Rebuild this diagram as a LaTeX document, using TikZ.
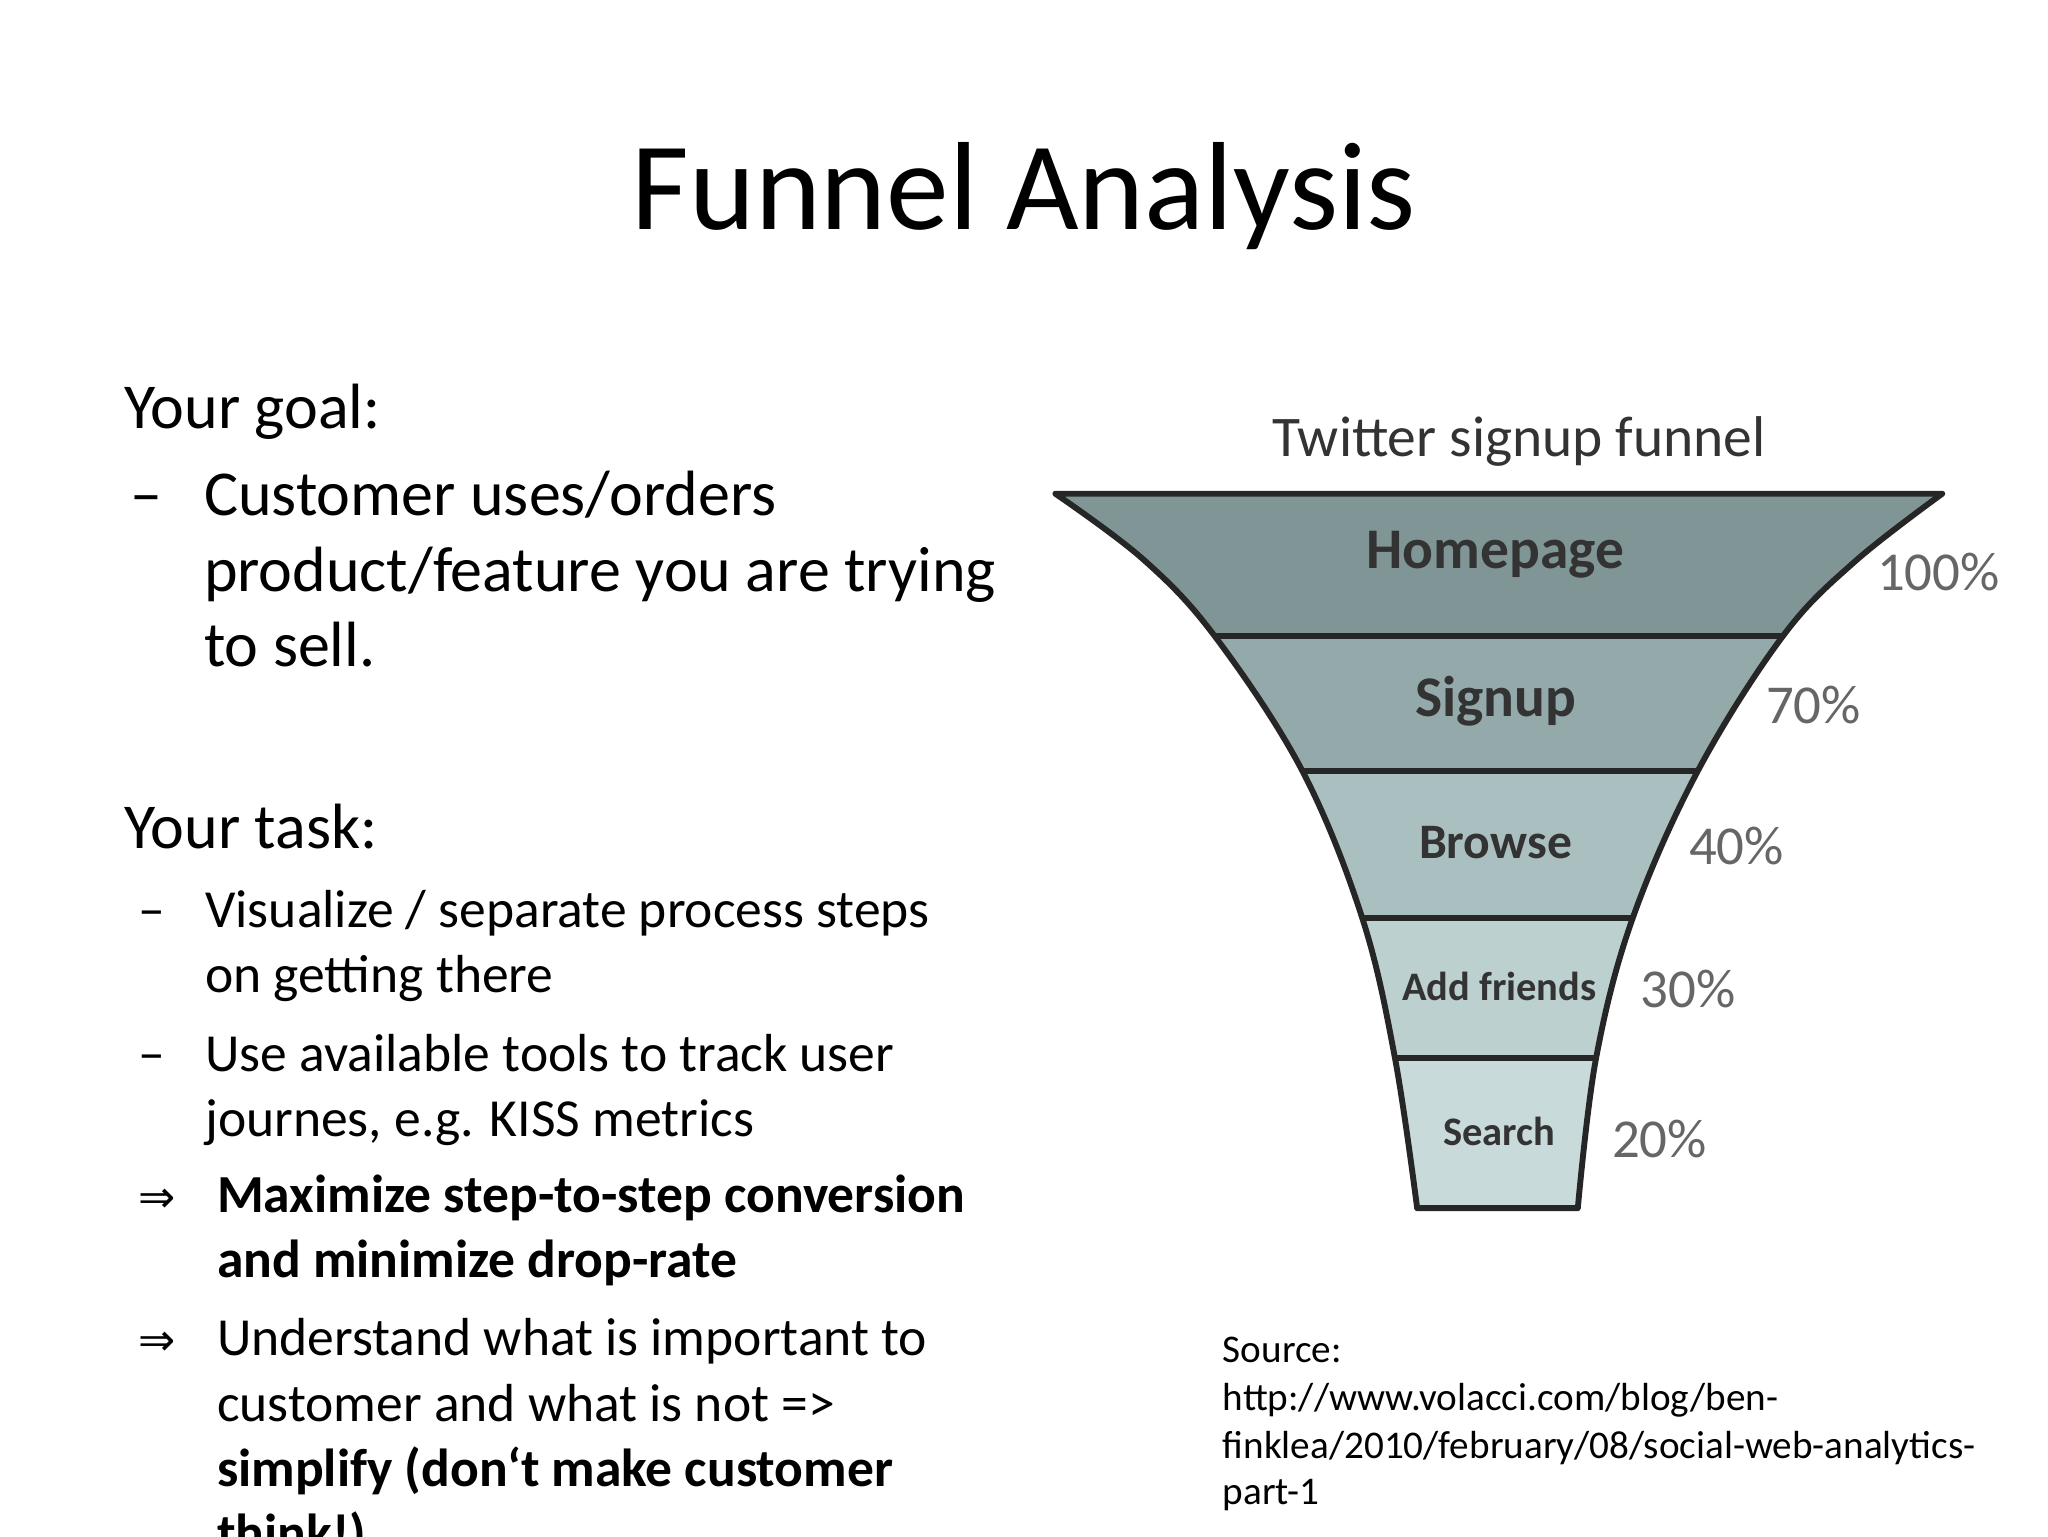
\documentclass[tikz,border=0pt]{standalone}
\usepackage{fontspec}
\setmainfont{Carlito}
\newfontfamily\dejavu{DejaVu Sans}
\begin{document}
\begin{tikzpicture}[x=1pt,y=-1pt,
  t/.style={anchor=base west,inner sep=0pt},
  fl/.style={inner sep=0pt,text=black!80,font=\bfseries},
  pc/.style={inner sep=0pt,anchor=west,text=black!60},
  edge/.style={line width=4.5pt,black!85,line join=round,line cap=round}]
\useasboundingbox (0,0) rectangle (1568,1176);
\fill[white] (0,0) rectangle (1568,1176);
\node[inner sep=0pt] (title) at (784,150) {\fontsize{96}{110}\selectfont Funnel Analysis};
% left text
\def\bs{\fontsize{49}{60}\selectfont}
\def\ss{\fontsize{41}{50}\selectfont}
\node[t] (g) at (95,328) {\bs Your goal:};
\node[t] (d1) at (100,395) {\bs –};
\node[t] (g1) at (156,395) {\bs Customer uses/orders};
\node[t] (g2) at (156,453) {\bs product/feature you are trying};
\node[t] (g3) at (156,510) {\bs to sell.};
\node[t] (k) at (95,650) {\bs Your task:};
\node[t] (d2) at (106,710) {\ss –};
\node[t] (k1) at (157,710) {\ss Visualize / separate process steps};
\node[t] (k2) at (157,760) {\ss on getting there};
\node[t] (d3) at (106,820) {\ss –};
\node[t] (k3) at (157,820) {\ss Use available tools to track user};
\node[t] (k4) at (157,870) {\ss journes, e.g. KISS metrics};
\node[t] (a1) at (106,928) {\fontsize{34}{40}\dejavu ⇒};
\node[t] (k5) at (166,928) {\ss\bfseries Maximize step-to-step conversion};
\node[t] (k6) at (166,978) {\ss\bfseries and minimize drop-rate};
\node[t] (a2) at (106,1038) {\fontsize{34}{40}\dejavu ⇒};
\node[t] (k7) at (166,1038) {\ss Understand what is important to};
\node[t] (k8) at (166,1088) {\ss customer and what is not =>};
\node[t] (k9) at (166,1138) {\ss\bfseries simplify (don‘t make customer};
\node[t] (k10) at (166,1188) {\ss\bfseries think!)};
% source
\def\sr{\fontsize{30}{36}\selectfont}
\node[t] (s1) at (936,1043) {\sr Source:};
\node[t] (s2) at (936,1080) {\sr http://www.volacci.com/blog/ben-};
\node[t] (s3) at (936,1117) {\sr finklea/2010/february/08/social-web-analytics-};
\node[t] (s4) at (936,1152) {\sr part-1};
% funnel
\def\funnel{(808,378) -- (1487,378) -- plot[smooth,tension=0.6] coordinates {(1487,378)(1420,430)(1365,487)(1300,590)(1250,703)(1222,810)(1208,925)} -- (1085,925) -- plot[smooth,tension=0.6] coordinates {(1085,925)(1068,810)(1043,703)(997,590)(930,487)(875,428)(808,378)} -- cycle}
\begin{scope}
\clip \funnel;
\fill[fill={rgb,255:red,128;green,150;blue,150}] (800,370) rectangle (1500,487);
\fill[fill={rgb,255:red,148;green,170;blue,170}] (800,487) rectangle (1500,590);
\fill[fill={rgb,255:red,170;green,192;blue,192}] (800,590) rectangle (1500,703);
\fill[fill={rgb,255:red,188;green,208;blue,208}] (800,703) rectangle (1500,810);
\fill[fill={rgb,255:red,200;green,218;blue,218}] (800,810) rectangle (1500,930);
\draw[edge] (800,487) -- (1500,487);
\draw[edge] (800,590) -- (1500,590);
\draw[edge] (800,703) -- (1500,703);
\draw[edge] (800,810) -- (1500,810);
\end{scope}
\draw[edge] \funnel;
\node[fl,font=\mdseries] (ft) at (1163,338) {\fontsize{44}{50}\selectfont Twitter signup funnel};
\node[fl] (h) at (1145,425) {\fontsize{44}{50}\selectfont Homepage};
\node[fl] (s) at (1145,537) {\fontsize{44}{50}\selectfont Signup};
\node[fl] (b) at (1145,645) {\fontsize{38}{50}\selectfont Browse};
\node[fl] (af) at (1148,755) {\fontsize{31}{40}\selectfont Add friends};
\node[fl] (se) at (1148,866) {\fontsize{31}{40}\selectfont Search};
\node[pc] (p1) at (1437,438) {\fontsize{42}{50}\selectfont 100\%};
\node[pc] (p2) at (1352,540) {\fontsize{42}{50}\selectfont 70\%};
\node[pc] (p3) at (1293,648) {\fontsize{42}{50}\selectfont 40\%};
\node[pc] (p4) at (1256,757) {\fontsize{42}{50}\selectfont 30\%};
\node[pc] (p5) at (1234,872) {\fontsize{42}{50}\selectfont 20\%};
\end{tikzpicture}
\end{document}
